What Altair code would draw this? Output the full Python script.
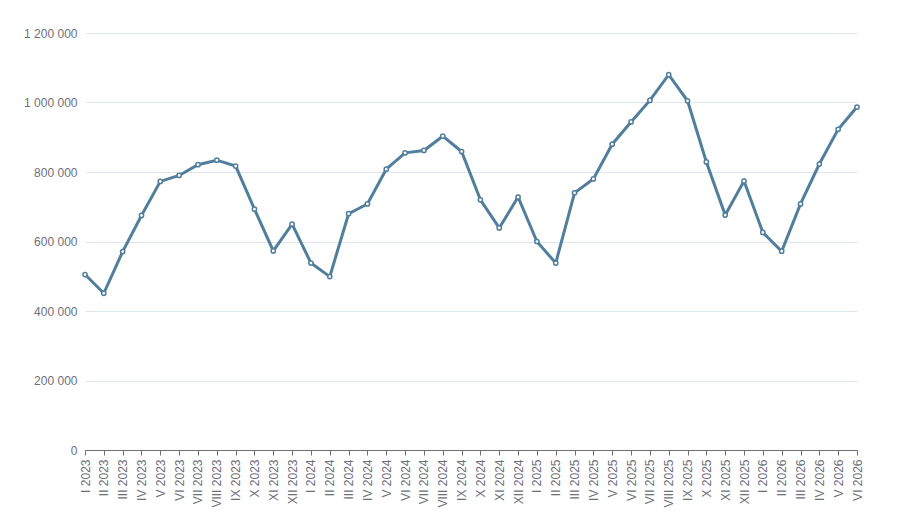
import altair as alt
import pandas as pd

months = ["I", "II", "III", "IV", "V", "VI", "VII", "VIII", "IX", "X", "XI", "XII"]
periods = [f"{m} {y}" for y in (2023, 2024, 2025) for m in months] + [f"{m} 2026" for m in months[:6]]

values = [
    505000, 451000, 571000, 675000, 773000, 790000, 821000, 834000, 817000, 693000, 573000, 650000,
    538000, 499000, 680000, 708000, 808000, 855000, 862000, 903000, 859000, 720000, 639000, 728000,
    600000, 538000, 740000, 780000, 880000, 944000, 1006000, 1080000, 1005000, 829000, 676000, 774000,
    626000, 572000, 708000, 823000, 923000, 987000,
]

df = pd.DataFrame({"period": periods, "value": values})

line_color = "#517e9c"
text_color = "#6e7079"

base = alt.Chart(df).encode(
    x=alt.X(
        "period:N",
        sort=periods,
        scale=alt.Scale(type="point", padding=0),
        axis=alt.Axis(
            title=None,
            labelAngle=-90,
            labelColor=text_color,
            labelFontSize=12,
            labelFont="Liberation Sans",
            labelPadding=4,
            domainColor=text_color,
            tickColor=text_color,
            tickSize=5,
            grid=False,
            labelOverlap=False,
        ),
    ),
    y=alt.Y(
        "value:Q",
        scale=alt.Scale(domain=[0, 1200000], nice=False),
        axis=alt.Axis(
            title=None,
            values=[0, 200000, 400000, 600000, 800000, 1000000, 1200000],
            format=",d",
            labelColor=text_color,
            labelFontSize=12,
            labelFont="Liberation Sans",
            labelPadding=8,
            domain=False,
            ticks=False,
            gridColor="#e0e6f1",
            gridWidth=1,
        ),
    ),
)

line = base.mark_line(color=line_color, strokeWidth=3)
points = base.mark_point(
    shape="circle", size=18, filled=True, fill="white", stroke=line_color, strokeWidth=1.5, opacity=1
)

chart = (
    (line + points)
    .properties(
        width=772,
        height=417,
        autosize=alt.AutoSizeParams(type="none"),
        padding={"left": 77, "top": 25, "right": 48, "bottom": 70},
    )
    .configure(locale={"number": {"decimal": ".", "thousands": " ", "grouping": [3], "currency": ["", ""]}})
    .configure_view(stroke=None)
)

chart.save("out.html", embed_options={"renderer": "svg", "actions": False})
